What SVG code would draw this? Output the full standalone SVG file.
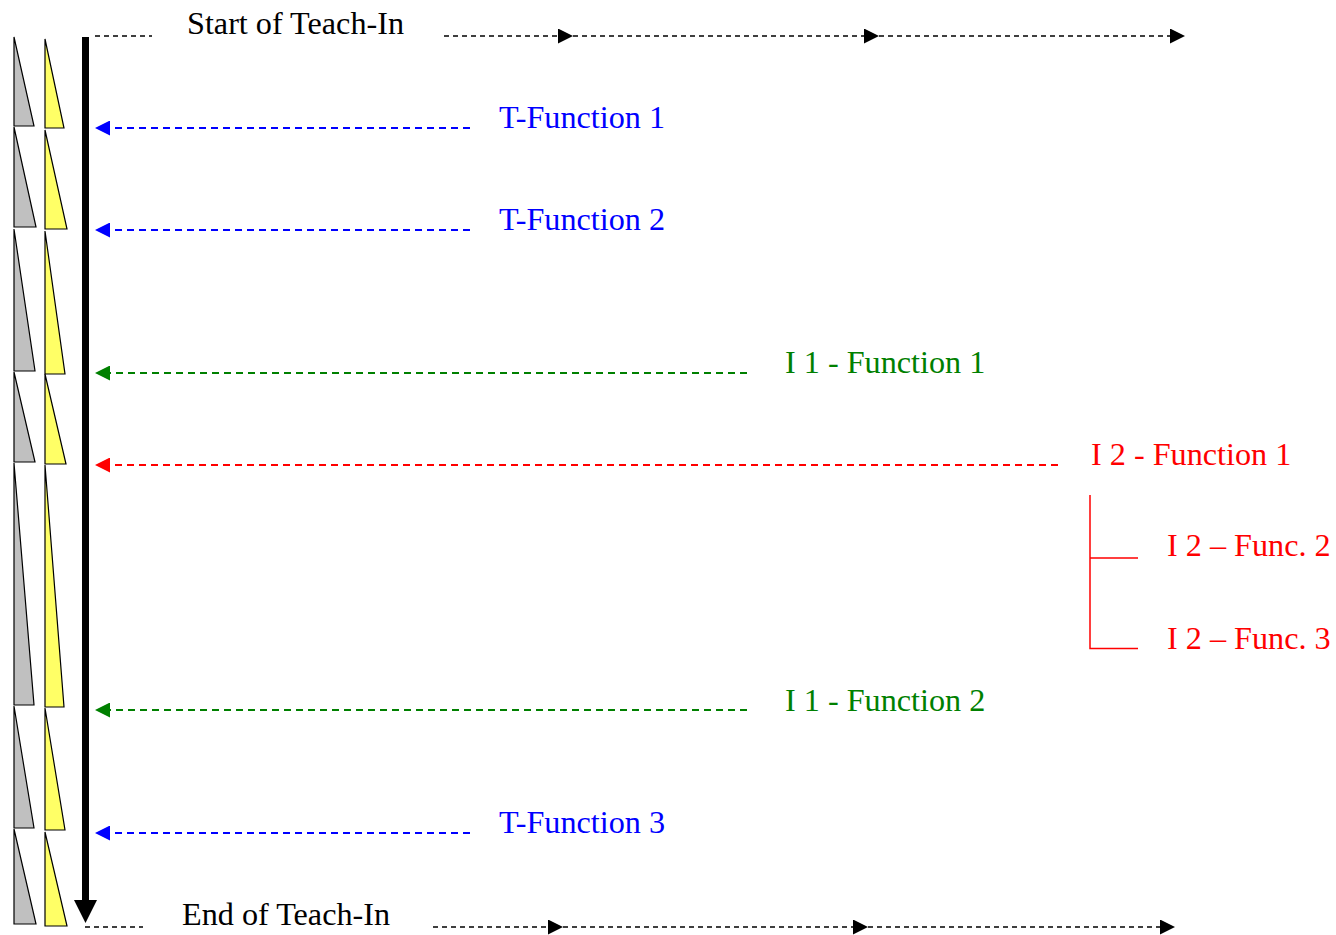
<svg xmlns="http://www.w3.org/2000/svg" width="1336" height="935" viewBox="0 0 1336 935">
  <defs>
    <style>
      text { font-family: "Liberation Serif", "Times New Roman", serif; font-size: 32.2px; }
      .lbl-black { fill: #000000; }
      .lbl-blue { fill: #0000ff; }
      .lbl-green { fill: #008000; }
      .lbl-red { fill: #ff0000; }
      .dash-black { stroke: #000000; stroke-width: 1.7; stroke-dasharray: 5 4; fill: none; }
      .dash-blue { stroke: #0000ff; stroke-width: 2; stroke-dasharray: 7 5; fill: none; marker-end: url(#head-blue); }
      .dash-green { stroke: #008000; stroke-width: 2; stroke-dasharray: 7 5; fill: none; marker-end: url(#head-green); }
      .dash-red { stroke: #ff0000; stroke-width: 2; stroke-dasharray: 7 5; fill: none; marker-end: url(#head-red); }
      .tri-gray { fill: #c0c0c0; stroke: #000000; stroke-width: 1.2; stroke-linejoin: miter; }
      .tri-yellow { fill: #ffff66; stroke: #000000; stroke-width: 1.2; stroke-linejoin: miter; }
      .bracket { stroke: #ff0000; stroke-width: 1.5; fill: none; }
    </style>
    <marker id="head-black" viewBox="0 0 15 15" refX="0" refY="7.5" markerWidth="15" markerHeight="15" markerUnits="userSpaceOnUse" orient="auto">
      <path d="M0,0 L15,7.5 L0,15 z" fill="#000000"/>
    </marker>
    <marker id="head-blue" viewBox="0 0 15 15" refX="0" refY="7.5" markerWidth="15" markerHeight="15" markerUnits="userSpaceOnUse" orient="auto">
      <path d="M0,0 L15,7.5 L0,15 z" fill="#0000ff"/>
    </marker>
    <marker id="head-green" viewBox="0 0 15 15" refX="0" refY="7.5" markerWidth="15" markerHeight="15" markerUnits="userSpaceOnUse" orient="auto">
      <path d="M0,0 L15,7.5 L0,15 z" fill="#008000"/>
    </marker>
    <marker id="head-red" viewBox="0 0 15 15" refX="0" refY="7.5" markerWidth="15" markerHeight="15" markerUnits="userSpaceOnUse" orient="auto">
      <path d="M0,0 L15,7.5 L0,15 z" fill="#ff0000"/>
    </marker>
  </defs>

  <rect width="1336" height="935" fill="#ffffff"/>

  <!-- phase wedges along the left edge -->
  <g id="wedges-gray">
    <polygon class="tri-gray" points="14,37 34,126 14,126"/>
    <polygon class="tri-gray" points="14,127 36,227 14,227"/>
    <polygon class="tri-gray" points="14,229 35,371 14,371"/>
    <polygon class="tri-gray" points="14,372 35,462 14,462"/>
    <polygon class="tri-gray" points="14,463 34,705 14,705"/>
    <polygon class="tri-gray" points="14,706 34,828 14,828"/>
    <polygon class="tri-gray" points="14,829 36,924 14,924"/>
  </g>
  <g id="wedges-yellow">
    <polygon class="tri-yellow" points="45,39 64,128 45,128"/>
    <polygon class="tri-yellow" points="45,130 67,229 45,229"/>
    <polygon class="tri-yellow" points="45,231 65,374 45,374"/>
    <polygon class="tri-yellow" points="45,374 66,464 45,464"/>
    <polygon class="tri-yellow" points="45,465 64,707 45,707"/>
    <polygon class="tri-yellow" points="45,708 65,830 45,830"/>
    <polygon class="tri-yellow" points="45,832 67,926 45,926"/>
  </g>

  <!-- main time axis -->
  <g id="time-axis">
    <rect x="82" y="37" width="7" height="864" fill="#000000"/>
    <polygon points="74,900 97,900 85.5,923" fill="#000000"/>
  </g>

  <!-- connectors -->
  <g id="connectors">
    <line class="dash-black" x1="95" y1="36" x2="152" y2="36"/>
    <line class="dash-black" x1="444" y1="36" x2="558" y2="36" marker-end="url(#head-black)"/>
    <line class="dash-black" x1="573" y1="36" x2="864" y2="36" marker-end="url(#head-black)"/>
    <line class="dash-black" x1="879" y1="36" x2="1170" y2="36" marker-end="url(#head-black)"/>

    <line class="dash-black" x1="85" y1="927" x2="143" y2="927"/>
    <line class="dash-black" x1="433" y1="927" x2="548" y2="927" marker-end="url(#head-black)"/>
    <line class="dash-black" x1="563" y1="927" x2="853" y2="927" marker-end="url(#head-black)"/>
    <line class="dash-black" x1="868" y1="927" x2="1160" y2="927" marker-end="url(#head-black)"/>

    <line class="dash-blue" x1="470" y1="128" x2="110" y2="128"/>
    <line class="dash-blue" x1="470" y1="230" x2="110" y2="230"/>
    <line class="dash-green" x1="747" y1="373" x2="110" y2="373"/>
    <line class="dash-red" x1="1058" y1="465" x2="110" y2="465"/>
    <line class="dash-green" x1="747" y1="710" x2="110" y2="710"/>
    <line class="dash-blue" x1="470" y1="833" x2="110" y2="833"/>

    <path class="bracket" d="M1090,495 L1090,648.5 L1138,648.5 M1090,558 L1138,558"/>
  </g>

  <!-- labels -->
  <g id="start"><text class="lbl-black" x="187" y="34">Start of Teach-In</text></g>
  <g id="t-function-1"><text class="lbl-blue" x="499" y="128">T-Function 1</text></g>
  <g id="t-function-2"><text class="lbl-blue" x="499" y="230">T-Function 2</text></g>
  <g id="i1-function-1"><text class="lbl-green" x="785" y="373">I 1 - Function 1</text></g>
  <g id="i2-function-1"><text class="lbl-red" x="1091" y="465">I 2 - Function 1</text></g>
  <g id="i2-func-2"><text class="lbl-red" x="1167" y="556">I 2 – Func. 2</text></g>
  <g id="i2-func-3"><text class="lbl-red" x="1167" y="649">I 2 – Func. 3</text></g>
  <g id="i1-function-2"><text class="lbl-green" x="785" y="711">I 1 - Function 2</text></g>
  <g id="t-function-3"><text class="lbl-blue" x="499" y="833">T-Function 3</text></g>
  <g id="end"><text class="lbl-black" x="182" y="925">End of Teach-In</text></g>
</svg>
